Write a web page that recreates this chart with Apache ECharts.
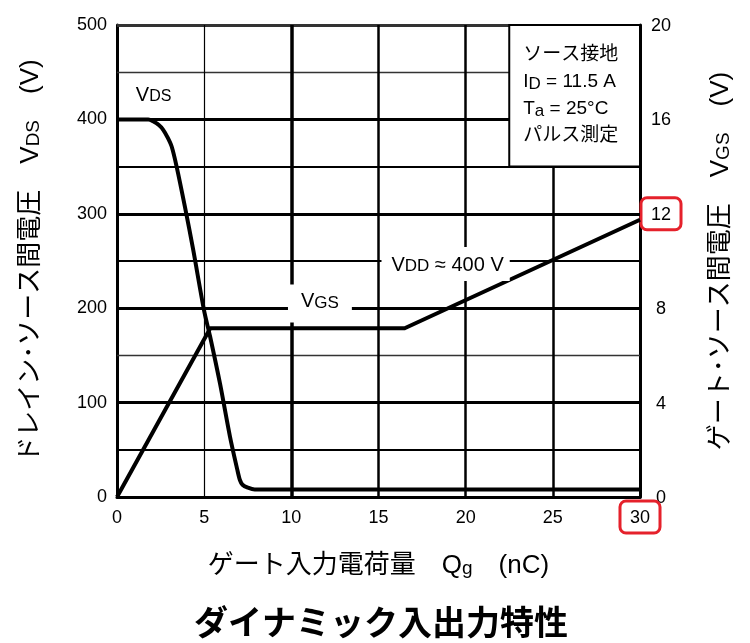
<!DOCTYPE html>
<html>
<head>
<meta charset="utf-8">
<script src="https://cdn.jsdelivr.net/npm/echarts@6/dist/echarts.min.js"></script>
<style>
html,body{margin:0;padding:0;background:#fff;}
#chart{width:750px;height:643px;}
</style>
</head>
<body>
<div id="chart"></div>
<script>
// ---- data ----
const xTicks = [0, 5, 10, 15, 20, 25, 30];
const leftTicks = [0, 100, 200, 300, 400, 500];
const rightTicks = [0, 4, 8, 12, 16, 20];
const highlightedRight = 12;
const highlightedBottom = 30;

// VDS curve (left axis, V) vs gate charge Qg (nC)
const vdsQ = [0, 1.0, 1.8, 2.07, 2.4, 2.65, 2.9, 3.14, 3.42, 3.9, 4.37, 4.99, 5.34, 5.91, 6.48, 6.9, 7.05, 7.2, 7.5, 7.9, 10, 30];
const vdsV = [400, 400, 400, 398, 394, 389, 381, 371, 350, 307, 262, 198, 170, 120, 64, 29, 18, 13, 10, 8, 8, 8];

// VGS curve (right axis, V)
const vgsQ = [0, 5.35, 16.5, 30];
const vgsV = [0, 7.15, 7.15, 11.75];

// grid lines
const hLinesThick = [100, 200, 300, 400];
const hLinesMid = [50, 250, 350];
const hLinesThin = [150, 450];
const vLinesThick = [10];
const vLinesMid = [15, 20, 25];
const vLinesThin = [5];

// condition box
const condBox = {x0: 22.5, x1: 30, y0: 350, y1: 500};
const condLines = ['ソース接地', 'I|D| = 11.5 A', 'T|a| = 25°C', 'パルス測定'];

// curve annotations
const vdsLabel = {q: 2.1, v: 423};
const vgsLabel = {q: 11.64, v: 8.2};
const vddLabel = {q: 18.85, v: 9.87};

const FONT = '"Liberation Sans", Arial, "Noto Sans CJK JP", sans-serif';

function zip(a, b) { return a.map((v, i) => [v, b[i]]); }

const chart = echarts.init(document.getElementById('chart'), null, {renderer: 'canvas'});

function subRich(m, s, pad) {
  return {
    m: {fontSize: m, lineHeight: m + 4, verticalAlign: 'top', fontFamily: FONT, color: '#000'},
    s: {fontSize: s, lineHeight: m + 4, verticalAlign: 'top', padding: [pad, 0, 0, 0], fontFamily: FONT, color: '#000'}
  };
}
const nameRich = {
  c: {fontSize: 26, lineHeight: 32, verticalAlign: 'top', fontFamily: FONT, color: '#000'},
  s: {fontSize: 19, lineHeight: 32, verticalAlign: 'top', padding: [6, 0, 0, 0], fontFamily: FONT, color: '#000'}
};

function markLines(vals, key, width, color) {
  return vals.map(v => ({[key]: v, lineStyle: {width: width, color: color || '#000', type: 'solid'}}));
}

const tickLabelRich = {
  p: {fontSize: 18, fontFamily: FONT, color: '#000', padding: [8, 10, 6, 10], borderWidth: 3, borderColor: 'transparent', borderRadius: 6},
  r: {fontSize: 18, fontFamily: FONT, color: '#000', padding: [8, 10, 6, 10], borderWidth: 3, borderColor: '#e5212b', borderRadius: 6}
};

const option = {
  animation: false,
  backgroundColor: '#fff',
  textStyle: {fontFamily: FONT},
  title: {
    text: 'ダイナミック入出力特性',
    left: 189,
    top: 600,
    textStyle: {fontSize: 34, fontWeight: 'bold', color: '#000', fontFamily: '"Noto Sans CJK JP", sans-serif'}
  },
  grid: {left: 117, right: 110, top: 25, bottom: 146, containLabel: false},
  xAxis: {
    type: 'value', min: 0, max: 30, interval: 5,
    axisLine: {show: true, lineStyle: {color: '#000', width: 3}},
    axisTick: {show: false},
    splitLine: {show: false},
    axisLabel: {
      margin: 4,
      formatter: v => (v === highlightedBottom ? '{r|' + v + '}' : '{p|' + v + '}'),
      rich: tickLabelRich
    },
    name: '{c|ゲート入力電荷量　Q}{s|g}{c|　(nC)}',
    nameLocation: 'middle',
    nameGap: 56,
    nameTextStyle: {rich: nameRich}
  },
  yAxis: [
    {
      type: 'value', min: 0, max: 500, interval: 100, position: 'left',
      axisLine: {show: true, lineStyle: {color: '#000', width: 3}},
      axisTick: {show: false},
      splitLine: {show: false},
      axisLabel: {margin: 10, fontSize: 18, color: '#000', fontFamily: FONT},
      name: '{c|ドレイン･ソース間電圧　V}{s|DS}{c|　(V)}',
      nameLocation: 'middle',
      nameRotate: 90,
      nameGap: 67,
      nameTextStyle: {rich: nameRich}
    },
    {
      type: 'value', min: 0, max: 20, interval: 4, position: 'right',
      axisLine: {show: true, onZero: false, lineStyle: {color: '#000', width: 3}},
      axisTick: {show: false},
      splitLine: {show: false},
      axisLabel: {
        margin: 21, align: 'center',
        formatter: v => (v === highlightedRight ? '{r|' + v + '}' : '{p|' + v + '}'),
        rich: tickLabelRich
      },
      name: '{c|ゲート･ソース間電圧　V}{s|GS}{c|　(V)}',
      nameLocation: 'middle',
      nameRotate: 90,
      nameGap: 68,
      nameTextStyle: {rich: nameRich}
    }
  ],
  series: [
    {
      // grid lines
      type: 'line', data: [], yAxisIndex: 0, z: 1, silent: true,
      markLine: {
        silent: true, symbol: ['none', 'none'], animation: false, z: 2,
        label: {show: false},
        data: [].concat(
          markLines(hLinesThick, 'yAxis', 3),
          markLines(hLinesMid, 'yAxis', 2.2),
          markLines(hLinesThin, 'yAxis', 1.3, '#333'),
          markLines([500], 'yAxis', 3, '#333'),
          markLines(vLinesThick, 'xAxis', 3.5),
          markLines(vLinesMid, 'xAxis', 2.5),
          markLines(vLinesThin, 'xAxis', 1.2)
        )
      }
    },
    {
      // condition box
      type: 'line', data: [], yAxisIndex: 0, z: 5, silent: true,
      markArea: {
        silent: true, z: 8,
        itemStyle: {color: '#fff', borderColor: '#000', borderWidth: 2},
        label: {
          show: true, position: 'insideTopLeft', distance: 0,
          padding: [21, 0, 0, 15],
          formatter: condLines.map(l => {
            const parts = l.split('|');
            if (parts.length === 3) return '{b|' + parts[0] + '}{sb|' + parts[1] + '}{b|' + parts[2] + '}';
            return '{b|' + l + '}';
          }).join('\n'),
          rich: {
            b: {fontSize: 19, lineHeight: 27, verticalAlign: 'top', color: '#000', fontFamily: FONT},
            sb: {fontSize: 17, lineHeight: 27, verticalAlign: 'top', padding: [4, 0, 0, 0], color: '#000', fontFamily: FONT}
          }
        },
        data: [[{xAxis: condBox.x0, yAxis: condBox.y0}, {xAxis: condBox.x1, yAxis: condBox.y1}]]
      }
    },
    {
      name: 'VDS', type: 'line', yAxisIndex: 0, z: 10,
      data: zip(vdsQ, vdsV), showSymbol: false, smooth: 0.3,
      lineStyle: {color: '#000', width: 4, join: 'round'},
      markPoint: {
        symbol: 'rect', symbolSize: 0, silent: true, z: 12,
        data: [
          {coord: [vdsLabel.q, vdsLabel.v], label: {show: true, position: 'inside', formatter: '{m|V}{s|DS}', rich: subRich(20, 16, 3)}}
        ]
      }
    },
    {
      name: 'VGS', type: 'line', yAxisIndex: 1, z: 10,
      data: zip(vgsQ, vgsV), showSymbol: false,
      lineStyle: {color: '#000', width: 4, join: 'round'},
      markPoint: {
        symbol: 'rect', symbolSize: 0, silent: true, z: 12,
        data: [
          {coord: [vgsLabel.q, vgsLabel.v], label: {show: true, position: 'inside', formatter: '{m|V}{s|GS}', rich: subRich(20, 17, 3),
            backgroundColor: '#fff', padding: [7, 13, 7, 13]}},
          {coord: [vddLabel.q, vddLabel.v], label: {show: true, position: 'inside', formatter: '{m|V}{s|DD}{m| ≈ 400 V}', rich: subRich(20, 17, 3),
            backgroundColor: '#fff', padding: [8, 6, 2, 10]}}
        ]
      }
    }
  ]
};

chart.setOption(option);
</script>
</body>
</html>
